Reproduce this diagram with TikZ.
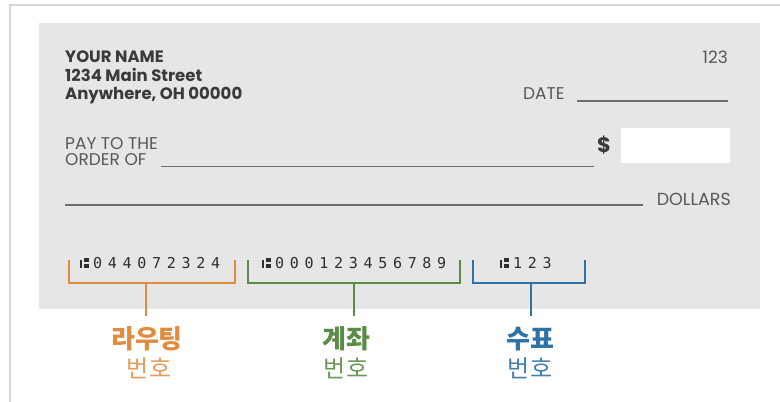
\documentclass[tikz,border=0pt]{standalone}
\usepackage{fontspec}
\setmainfont{Poppins}
\newfontfamily\krfont{Noto Sans CJK KR}
\newfontfamily\micrfont[LetterSpace=38]{DejaVu Sans Mono}
\definecolor{framec}{HTML}{D4D4D4}
\definecolor{checkbg}{HTML}{E6E6E6}
\definecolor{inkdark}{HTML}{3A3A3A}
\definecolor{inkmid}{HTML}{585858}
\definecolor{ruleg}{HTML}{6E6E6E}
\definecolor{micrc}{HTML}{2E2E2E}
\definecolor{routec}{HTML}{E08B3E}
\definecolor{acctc}{HTML}{5A8C47}
\definecolor{chkc}{HTML}{2F72A6}
\tikzset{
  txt/.style={inner sep=0pt, text=inkmid},
  boldtxt/.style={txt, text=inkdark, font=\fontsize{16.5}{18}\selectfont\bfseries},
  regtxt/.style={txt, font=\fontsize{17}{18}\selectfont},
  writeline/.style={draw=ruleg, line width=1.8pt},
  micr/.style={inner sep=0pt, text=micrc, font=\micrfont\fontsize{15}{15}\selectfont},
  transit/.style={fill=micrc},
  brace/.style={line width=2.6pt, line cap=rect},
  toplab/.style={inner sep=0pt, font=\krfont\fontsize{26}{28}\selectfont\bfseries},
  botlab/.style={inner sep=0pt, font=\krfont\fontsize{24}{26}\selectfont},
}
\newcommand{\transitsym}[1]{%
  \fill[transit] (#1+0,259.5) rectangle (#1+2.2,268);
  \fill[transit] (#1+4.2,257.5) rectangle (#1+9,261.8);
  \fill[transit] (#1+4.2,263.6) rectangle (#1+9,268);
}
\begin{document}
\begin{tikzpicture}[x=1pt,y=-1pt]
\useasboundingbox (0,0) rectangle (780,402);
\fill[white] (0,0) rectangle (780,402);
\draw[framec, line width=1.2pt] (10,402) -- (10,5) -- (780,5);
\fill[checkbg] (39,23) rectangle (760,309);

% address block
\node[boldtxt, anchor=base west] (name) at (65,62.5) {YOUR NAME};
\node[boldtxt, anchor=base west] (street) at (65,81) {1234 Main Street};
\node[boldtxt, anchor=base west] (city) at (65,99.5) {Anywhere, OH 00000};
\node[regtxt, anchor=base east] (num) at (728,63) {123};

% date
\node[regtxt, anchor=base west] (date) at (523,99) {DATE};
\coordinate (dateA) at (577,101);
\coordinate (dateB) at (728,101);
\draw[writeline] (dateA) -- (dateB);

% pay to
\node[regtxt, anchor=base west] (pay) at (65,149) {PAY TO THE};
\node[regtxt, anchor=base west] (order) at (65,165) {ORDER OF};
\coordinate (payA) at (161,166.5);
\coordinate (payB) at (594,166.5);
\draw[writeline] (payA) -- (payB);
\node[txt, text=inkdark, anchor=base west, font=\fontsize{21}{22}\selectfont\bfseries] (dollar) at (597,152) {\$};
\node[fill=white, minimum width=109pt, minimum height=35pt, inner sep=0pt, anchor=north west] (amount) at (621,128) {};

% dollars line
\coordinate (dolA) at (65,205);
\coordinate (dolB) at (643,205);
\draw[writeline] (dolA) -- (dolB);
\node[regtxt, anchor=base east, font=\fontsize{17.5}{18}\selectfont] (dollars) at (731,205) {DOLLARS};

% MICR line
\transitsym{80}
\node[micr, anchor=base west] (routing) at (93,268) {044072324};
\transitsym{262}
\node[micr, anchor=base west] (account) at (275,268) {000123456789};
\transitsym{500}
\node[micr, anchor=base west] (checknum) at (513,268) {123};

% brackets
\coordinate (r1) at (69,261); \coordinate (r2) at (69,283);
\coordinate (r3) at (235,283); \coordinate (r4) at (235,261);
\coordinate (rs) at (146,283); \coordinate (re) at (146,316);
\draw[brace, routec] (r1) -- (r2) -- (r3) -- (r4);
\draw[brace, routec, line cap=butt] (rs) -- (re);

\coordinate (a1) at (248,261); \coordinate (a2) at (248,283);
\coordinate (a3) at (460,283); \coordinate (a4) at (460,261);
\coordinate (as) at (354,283); \coordinate (ae) at (354,316);
\draw[brace, acctc] (a1) -- (a2) -- (a3) -- (a4);
\draw[brace, acctc, line cap=butt] (as) -- (ae);

\coordinate (c1) at (473,261); \coordinate (c2) at (473,283);
\coordinate (c3) at (585,283); \coordinate (c4) at (585,261);
\coordinate (cs) at (531,283); \coordinate (ce) at (531,316);
\draw[brace, chkc] (c1) -- (c2) -- (c3) -- (c4);
\draw[brace, chkc, line cap=butt] (cs) -- (ce);

% labels
\node[toplab, text=routec] (rlab1) at (147,339) {라우팅};
\node[botlab, text=routec!85] (rlab2) at (149,368) {번호};
\node[toplab, text=acctc] (alab1) at (346,339) {계좌};
\node[botlab, text=acctc!90] (alab2) at (346,368) {번호};
\node[toplab, text=chkc] (clab1) at (530,339) {수표};
\node[botlab, text=chkc!90] (clab2) at (530,368) {번호};
\end{tikzpicture}
\end{document}
